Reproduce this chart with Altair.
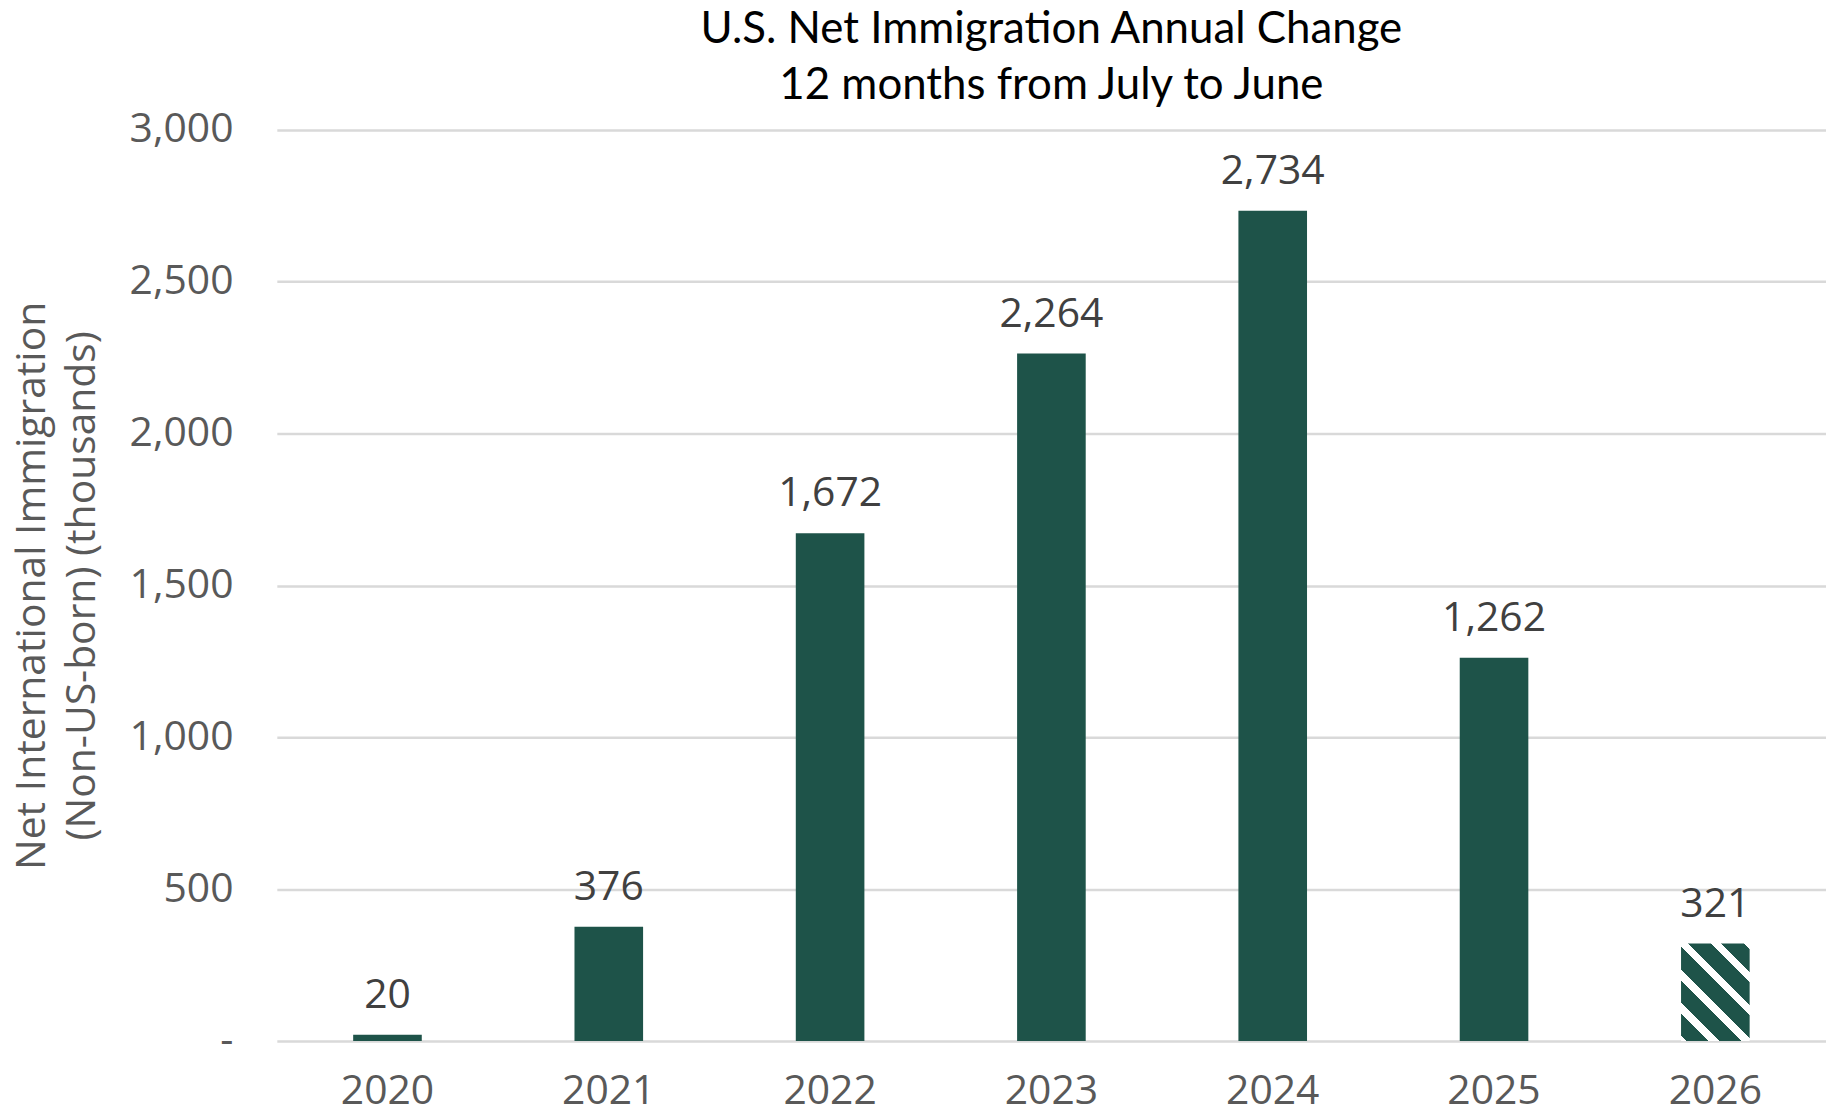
import altair as alt
import pandas as pd

years = ["2020", "2021", "2022", "2023", "2024", "2025", "2026"]
values = [20, 376, 1672, 2264, 2734, 1262, 321]
kinds = ["actual", "actual", "actual", "actual", "actual", "actual", "projected"]
y_ticks = [0, 500, 1000, 1500, 2000, 2500, 3000]

df = pd.DataFrame({"year": years, "value": values, "kind": kinds})

W, H = 1556, 915
BAR = "#1e5349"
BAND = 0.31
YMAX = 3000

# diagonal stripe fill for the projected bar (gradient with hard stops)
bw = W / len(years) * BAND
bh = values[-1] * H / YMAX
s = (bw + bh) / (bw ** 2 + bh ** 2)
vx, vy = bw * s, -bh * s
x1, y1 = 0.5 - vx / 2, 0.5 - vy / 2
x2, y2 = 0.5 + vx / 2, 0.5 + vy / 2
periods = 5.0
period = 1 / periods
dark_frac = 0.68
phase = 0.03
stops = []
edges = []
t = phase - period
while t < 1.0:
    a, b = t, t + period * dark_frac
    edges.append((a, b))
    t += period
stops.append(alt.GradientStop(offset=0.0, color="#ffffff"))
for a, b in edges:
    a2, b2 = max(0.0, a), min(1.0, b)
    if b2 <= 0 or a2 >= 1:
        continue
    stops.append(alt.GradientStop(offset=a2, color="#ffffff"))
    stops.append(alt.GradientStop(offset=a2, color=BAR))
    stops.append(alt.GradientStop(offset=b2, color=BAR))
    stops.append(alt.GradientStop(offset=b2, color="#ffffff"))
stops.append(alt.GradientStop(offset=1.0, color="#ffffff"))
stripe = alt.LinearGradient(gradient="linear", stops=stops, x1=x1, y1=y1, x2=x2, y2=y2)

LABEL_FONT = "Open Sans"
GRAY = "#595959"

x_enc = alt.X(
    "year:N",
    sort=years,
    scale=alt.Scale(paddingInner=0, paddingOuter=0),
    axis=alt.Axis(
        title=None, labelAngle=0, domain=False, ticks=False, grid=False,
        labelFont=LABEL_FONT, labelFontSize=41, labelColor=GRAY, labelPadding=31,
    ),
)
y_enc = alt.Y(
    "value:Q",
    scale=alt.Scale(domain=[0, YMAX], nice=False),
    axis=alt.Axis(
        values=y_ticks,
        title=["Net International Immigration", "(Non-US-born) (thousands)"],
        titleFont=LABEL_FONT, titleFontSize=41, titleColor=GRAY, titleFontWeight="normal",
        titleLineHeight=50, titlePadding=26,
        labelExpr="datum.value == 0 ? '-\u00a0\u00a0' : format(datum.value, ',')",
        labelFont=LABEL_FONT, labelFontSize=41, labelColor=GRAY, labelPadding=44,
        domain=False, ticks=False, grid=True, gridColor="#d9d9d9", gridWidth=2.5,
    ),
)

base = alt.Chart(df).encode(x=x_enc, y=y_enc)

bars = base.transform_filter(alt.datum.kind == "actual").mark_bar(
    width=alt.RelativeBandSize(BAND), color=BAR
)
proj = base.transform_filter(alt.datum.kind == "projected").mark_bar(
    width=alt.RelativeBandSize(BAND), fill=stripe
)
labels = base.mark_text(
    baseline="alphabetic", dy=-27, font=LABEL_FONT, fontSize=41, color="#404040"
).encode(text=alt.Text("value:Q", format=","))

chart = (
    alt.layer(bars, proj, labels)
    .properties(
        width=W,
        height=H,
        background="white",
        autosize=alt.AutoSizeParams(type="none"),
        padding={"left": 270, "top": 120, "right": 0, "bottom": 72},
        title=alt.TitleParams(
            ["U.S. Net Immigration Annual Change", "12 months from July to June"],
            font="Lato", fontSize=44, fontWeight="normal", color="black",
            anchor="middle", lineHeight=56, offset=1,
        ),
    )
    .configure_view(strokeWidth=0, stroke=None)
)

chart.save("out.html", embed_options={"renderer": "svg", "actions": False})
